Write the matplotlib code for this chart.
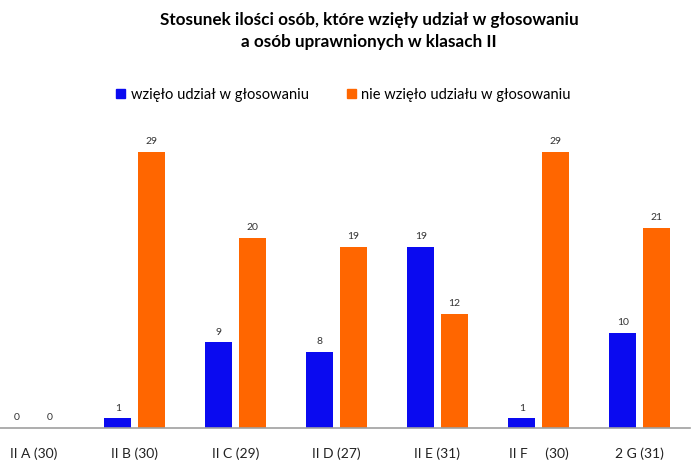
import numpy as np
import matplotlib.pyplot as plt
from matplotlib.patches import Patch

# data
classes = ["II A (30)", "II B (30)", "II C (29)", "II D (27)", "II E (31)", "II F     (30)", "2 G (31)"]
voted = [0, 1, 9, 8, 19, 1, 10]
not_voted = [0, 29, 20, 19, 12, 29, 21]

blue = "#0A0AF0"
orange = "#FF6600"

plt.rcParams['font.family'] = ['Lato', 'DejaVu Sans']

fig = plt.figure(figsize=(7.0, 4.73), dpi=100)
# axes: left edge slightly outside the picture, baseline at y=428px
ax = fig.add_axes([0.0, 45 / 473, 690 / 700, (428 - 110) / 473])

x = np.arange(len(classes))
w = 0.27
off = 0.165
b1 = ax.bar(x - off, voted, w, color=blue)
b2 = ax.bar(x + off, not_voted, w, color=orange)

for bars in (b1, b2):
    for r in bars:
        ax.text(r.get_x() + r.get_width() / 2, r.get_height() + 0.6, "%d" % r.get_height(),
                ha="center", va="bottom", fontsize=7.5, color="#333333")

ax.set_xlim(-0.5 + 17 / 101, 6.5)
ax.set_ylim(0, (428 - 110) / 9.52)
ax.set_xticks(x)
ax.set_xticklabels(classes, fontsize=10, color="#222222")
ax.tick_params(axis="x", length=0, pad=14)
ax.set_yticks([])
for s in ("top", "right", "left"):
    ax.spines[s].set_visible(False)
ax.spines["bottom"].set_color("#A0A0A0")
ax.spines["bottom"].set_linewidth(1.2)

fig.text(0.527, 1 - 31 / 473, "Stosunek ilości osób, które wzięły udział w głosowaniu\na osób uprawnionych w klasach II",
         ha="center", va="center", fontsize=12.3, fontweight="bold", linespacing=1.5)

handles = [Patch(color=blue), Patch(color=orange)]
fig.legend(handles, ["wzięło udział w głosowaniu", "nie wzięło udziału w głosowaniu"],
           loc="center", bbox_to_anchor=(0.491, 1 - 95 / 473), ncol=2, frameon=False,
           fontsize=10.5, handlelength=0.6, handleheight=0.6, handletextpad=0.4, columnspacing=2.6)

fig.savefig("out.png", dpi=100)
